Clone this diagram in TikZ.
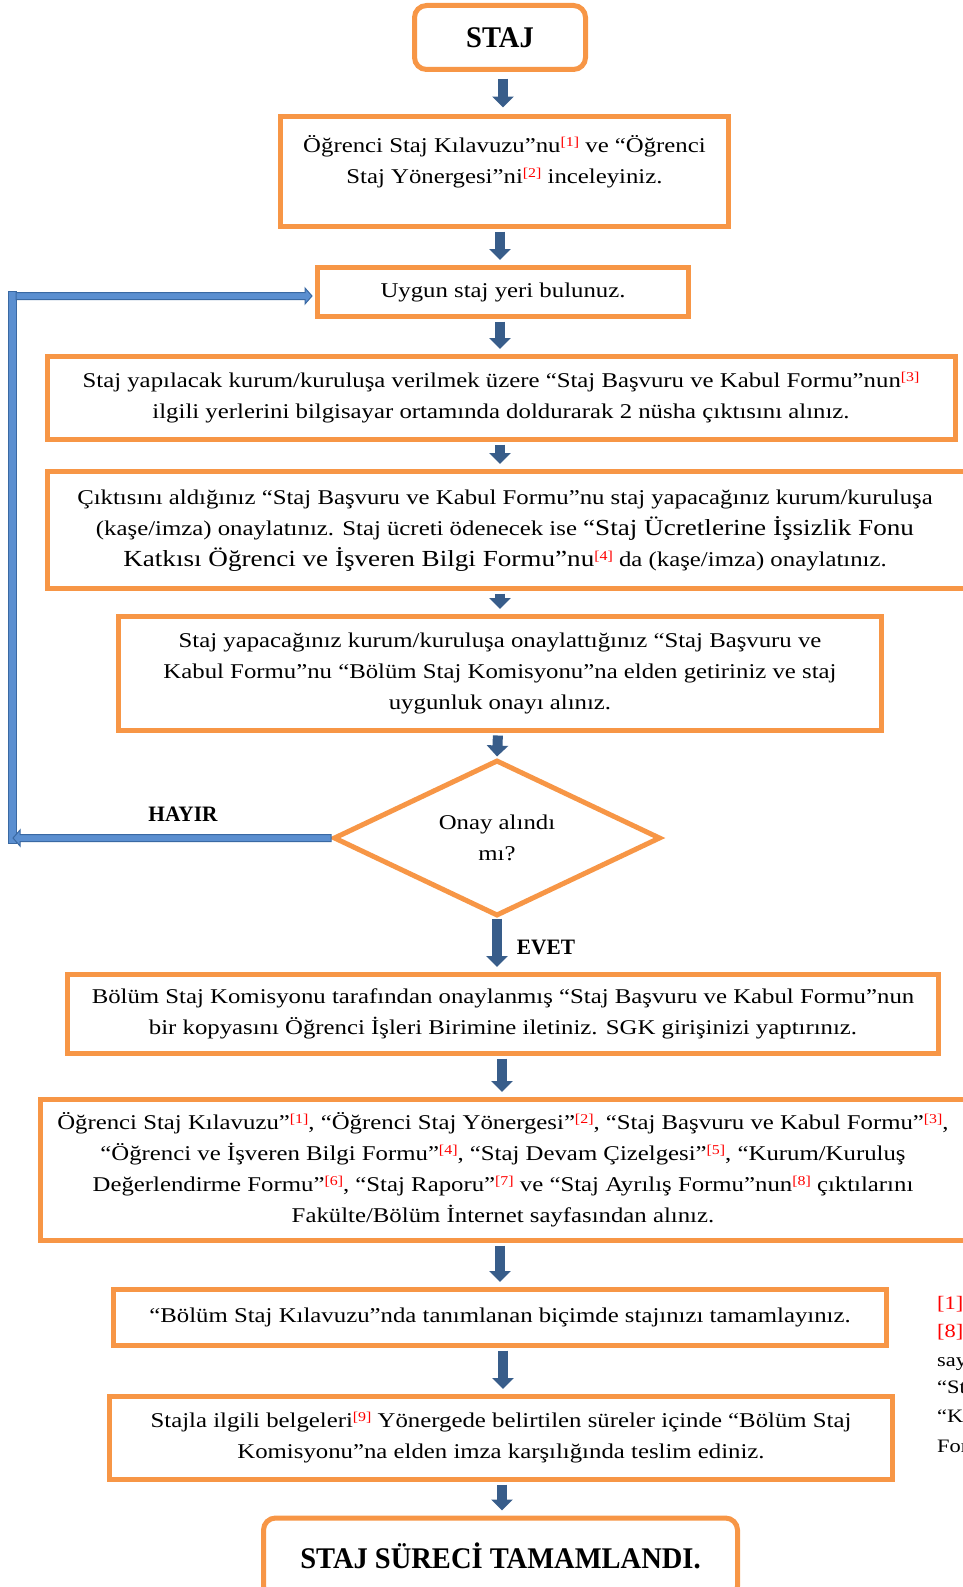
\documentclass[tikz,border=0pt]{standalone}
\usepackage{fontspec}
\setmainfont{Liberation Serif}[FakeStretch=1.18]
\newfontfamily\titlefont{Liberation Serif}[FakeStretch=0.95]
\newfontfamily\lblfont{Liberation Serif}[FakeStretch=0.97]
\usetikzlibrary{arrows.meta,shapes.geometric,calc}
\definecolor{org}{HTML}{F79646}
\definecolor{arrc}{HTML}{385D8A}
\definecolor{loopfill}{HTML}{5B8FD0}
\definecolor{loopdraw}{HTML}{3A69A3}
\definecolor{fnred}{HTML}{FF0000}
\newcommand\fnm[1]{\raisebox{0.62ex}{\fontsize{13.5}{13}\selectfont\textcolor{fnred}{[#1]}}}
\begin{document}
\begin{tikzpicture}[x=1pt,y=-1pt,
  box/.style={draw=org, line width=5pt, fill=white, inner sep=0pt},
  rbox/.style={box, rounded corners=12pt},
  txt/.style={align=center, inner sep=0pt, font=\fontsize{21}{31}\selectfont},
  big/.style={font=\titlefont\fontsize{30}{36}\selectfont\bfseries},
  lbl/.style={font=\lblfont\fontsize{22}{25}\selectfont\bfseries, inner sep=0pt},
  arr/.style={draw=arrc, line width=10pt, -{Triangle[width=21pt,length=11pt]},
              shorten <=2.5pt, shorten >=5pt},
  loopshape/.style={fill=loopfill, draw=loopdraw, line width=1pt}
]
\useasboundingbox (0,0) rectangle (963,1587);
\clip (0,0) rectangle (963,1587);

% boxes
\node[rbox, minimum width=171, minimum height=64] (s) at (500,37.5) {};
\node[txt, big] at (s.center) {STAJ};

\node[box, minimum width=448, minimum height=110] (b2) at (504.5,171.5) {};
\node[txt] at (504.5,162) {Öğrenci Staj Kılavuzu”nu\fnm{1} ve “Öğrenci\\Staj Yönergesi”ni\fnm{2} inceleyiniz.};

\node[box, minimum width=371, minimum height=49] (b3) at (503,292) {};
\node[txt] at (b3.center) {Uygun staj yeri bulunuz.};

\node[box, minimum width=908, minimum height=83] (b4) at (501.5,398) {};
\node[txt] at (501,398) {Staj yapılacak kurum/kuruluşa verilmek üzere “Staj Başvuru ve Kabul Formu”nun\fnm{3}\\ilgili yerlerini bilgisayar ortamında doldurarak 2 nüsha çıktısını alınız.};

\node[box, minimum width=935, minimum height=117] (b5) at (515,530) {};
\node[txt] at (505,531) {Çıktısını aldığınız “Staj Başvuru ve Kabul Formu”nu staj yapacağınız kurum/kuruluşa\\(kaşe/imza) onaylatınız. Staj ücreti ödenecek ise {\fontsize{23}{31}\selectfont“Staj Ücretlerine İşsizlik Fonu}\\{\fontsize{23}{31}\selectfont Katkısı Öğrenci ve İşveren Bilgi Formu”nu}\fnm{4} da (kaşe/imza) onaylatınız.};

\node[box, minimum width=763, minimum height=114] (b6) at (500,673.5) {};
\node[txt] at (b6.center) {Staj yapacağınız kurum/kuruluşa onaylattığınız “Staj Başvuru ve\\Kabul Formu”nu “Bölüm Staj Komisyonu”na elden getiriniz ve staj\\uygunluk onayı alınız.};

\node[diamond, draw=org, line width=5pt, fill=white, inner sep=0pt, aspect=2.1,
      minimum width=327, minimum height=156] (d) at (497,838) {};
\node[txt] at (d.center) {Onay alındı\\mı?};

\node[box, minimum width=871, minimum height=79] (b7) at (503,1014) {};
\node[txt] at (b7.center) {Bölüm Staj Komisyonu tarafından onaylanmış “Staj Başvuru ve Kabul Formu”nun\\bir kopyasını Öğrenci İşleri Birimine iletiniz. SGK girişinizi yaptırınız.};

\node[box, minimum width=950, minimum height=141] (b8) at (515.5,1170) {};
\node[txt] at (503,1170) {Öğrenci Staj Kılavuzu”\fnm{1}, “Öğrenci Staj Yönergesi”\fnm{2}, “Staj Başvuru ve Kabul Formu”\fnm{3},\\“Öğrenci ve İşveren Bilgi Formu”\fnm{4}, “Staj Devam Çizelgesi”\fnm{5}, “Kurum/Kuruluş\\Değerlendirme Formu”\fnm{6}, “Staj Raporu”\fnm{7} ve “Staj Ayrılış Formu”nun\fnm{8} çıktılarını\\Fakülte/Bölüm İnternet sayfasından alınız.};

\node[box, minimum width=773, minimum height=56] (b9) at (500,1317.5) {};
\node[txt] at (b9.center) {“Bölüm Staj Kılavuzu”nda tanımlanan biçimde stajınızı tamamlayınız.};

\node[box, minimum width=783, minimum height=83] (b10) at (501,1438) {};
\node[txt] at (b10.center) {Stajla ilgili belgeleri\fnm{9} Yönergede belirtilen süreler içinde “Bölüm Staj\\Komisyonu”na elden imza karşılığında teslim ediniz.};

\node[rbox, minimum width=474, minimum height=80] (e) at (500.5,1558) {};
\node[txt, big] at (500.5,1556) {STAJ SÜRECİ TAMAMLANDI.};

% labels
\node[lbl] (hayir) at (183,814) {HAYIR};
\node[lbl] (evet) at (546,947) {EVET};

% margin notes (cut off by the page edge, as in the reference)
\begin{scope}[every node/.style={anchor=base west, inner sep=0pt, font=\fontsize{19}{23}\selectfont}]
\node[text=fnred] (m1) at (937,1309) {[1]};
\node[text=fnred] (m2) at (937,1337) {[8]};
\node (m3) at (937,1366) {say};
\node (m4) at (937,1393) {“St};
\node (m5) at (937,1422) {“Ku};
\node (m6) at (937,1452) {For};
\end{scope}

% main arrows
\coordinate (x1) at (503,0);
\coordinate (x2) at (500,0);
\coordinate (x6) at (498,0);
\coordinate (x8) at (502,0);
\coordinate (x10) at (503,0);
\draw[arr, shorten <=6.5pt, shorten >=6.5pt] (x1 |- s.south) -- (x1 |- b2.north);
\draw[arr] (x2 |- b2.south) -- (x2 |- b3.north);
\draw[arr] (x2 |- b3.south) -- (x2 |- b4.north);
\draw[arr] (x2 |- b4.south) -- (x2 |- b5.north);
\draw[arr] (x2 |- b5.south) -- (x2 |- b6.north);
\draw[arr, shorten >=1pt] (x6 |- b6.south) -- (d.north);
\draw[arr, shorten <=0pt] (d.south) -- (d.south |- b7.north);
\draw[arr] (x8 |- b7.south) -- (x8 |- b8.north);
\draw[arr] (x2 |- b8.south) -- (x2 |- b9.north);
\draw[arr] (x10 |- b9.south) -- (x10 |- b10.north);
\draw[arr] (x8 |- b10.south) -- (x8 |- e.north);

% loop back (HAYIR)
\coordinate (ltop) at (8,291);
\coordinate (lbot) at (16,843);
\filldraw[loopshape] (ltop) rectangle (lbot);
\coordinate (tip1) at ($(b3.west)+(-3,4)$);
\filldraw[loopshape] (16,292.5) -- ($(tip1)+(-7,-3.5)$) -- ($(tip1)+(-7,-8)$) -- (tip1)
   -- ($(tip1)+(-7,8)$) -- ($(tip1)+(-7,3.5)$) -- (16,299.5) -- cycle;
\coordinate (tip2) at (13,838);
\filldraw[loopshape] ($(d.west)+(0,-3.5)$) -- ($(tip2)+(7,-3.5)$) -- ($(tip2)+(7,-8)$) -- (tip2)
   -- ($(tip2)+(7,8)$) -- ($(tip2)+(7,3.5)$) -- ($(d.west)+(0,3.5)$) -- cycle;
\end{tikzpicture}
\end{document}
